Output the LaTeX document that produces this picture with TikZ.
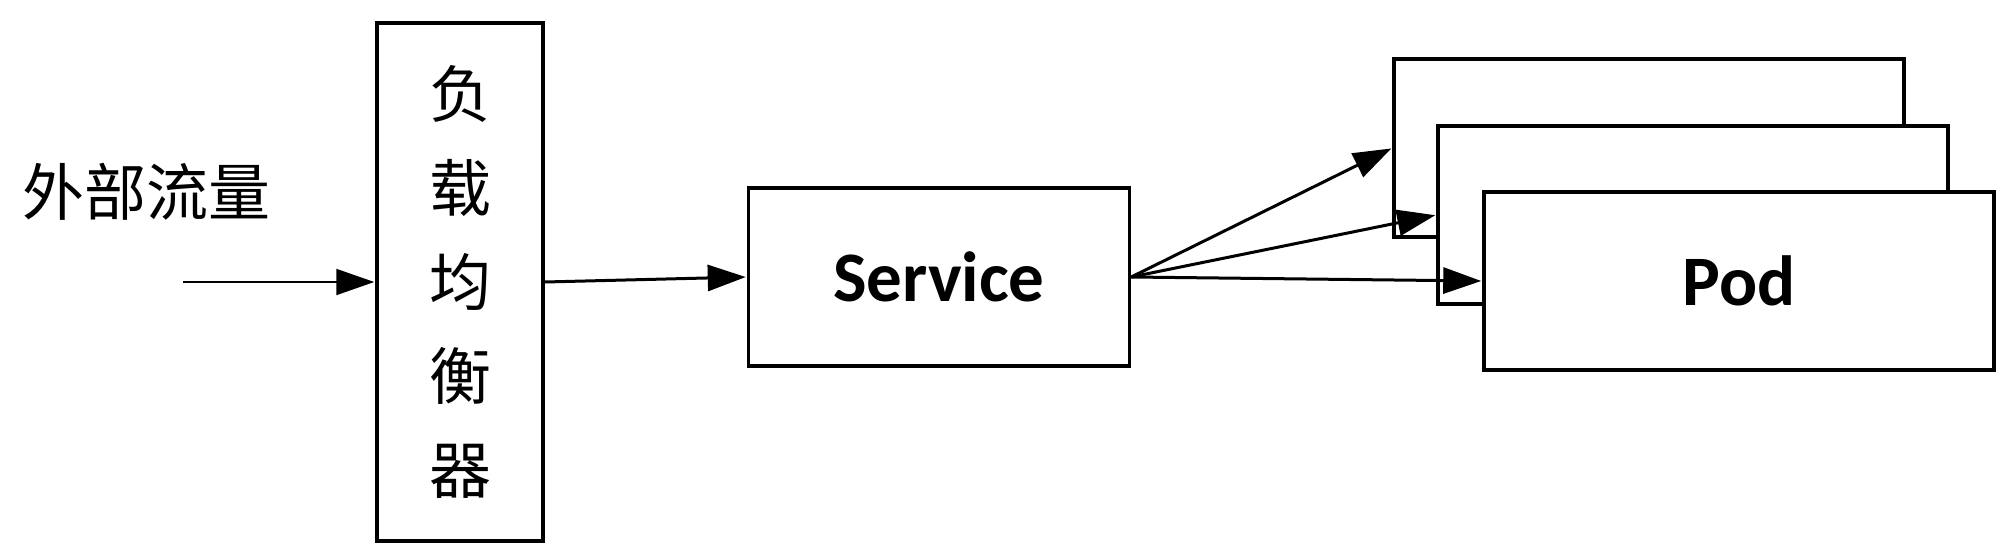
\documentclass[tikz,border=0pt]{standalone}
\usepackage{fontspec}
\setsansfont{Carlito}
\newfontfamily\cjk{Noto Sans CJK SC}
\usetikzlibrary{arrows.meta}
\tikzset{>={Triangle[length=38pt,width=26pt]}}
\tikzset{
  box/.style={draw,line width=3.5pt,fill=white,inner sep=0pt},
  podbox/.style={box,minimum width=510pt,minimum height=178pt},
  flow/.style={->,line width=3pt,shorten >=1pt}
}

\begin{document}
\begin{tikzpicture}[x=1pt,y=-1pt]
    \useasboundingbox (0,0) rectangle (2002,554);
    \node (traffic) at (146,192) {\cjk\fontsize{62}{62}\selectfont 外部流量};
    \coordinate (in) at (183,282);
    \node[box,minimum width=166pt,minimum height=518pt,align=center,
      font=\cjk\fontsize{62}{94}\selectfont] (lb) at (460,282) {负\\载\\均\\衡\\器};
    \node[box,minimum width=381pt,minimum height=178pt,
      font=\sffamily\bfseries\fontsize{71}{71}\selectfont] (svc) at (939,277) {Service};
    \node[podbox] (pod1) at (1649,148) {};
    \node[podbox] (pod2) at (1693,215) {};
    \node[podbox,font=\sffamily\bfseries\fontsize{71}{71}\selectfont] (pod3) at (1739,281) {Pod};
    \draw[flow,line width=2pt] (in) -- (lb.west);
    \draw[flow] (lb.east) -- (svc.west);
    \draw[flow] (svc.east) -- (pod1.west);
    \draw[flow] (svc.east) -- (pod2.west);
    \draw[flow] (svc.east) -- (pod3.west);
\end{tikzpicture}
\end{document}
